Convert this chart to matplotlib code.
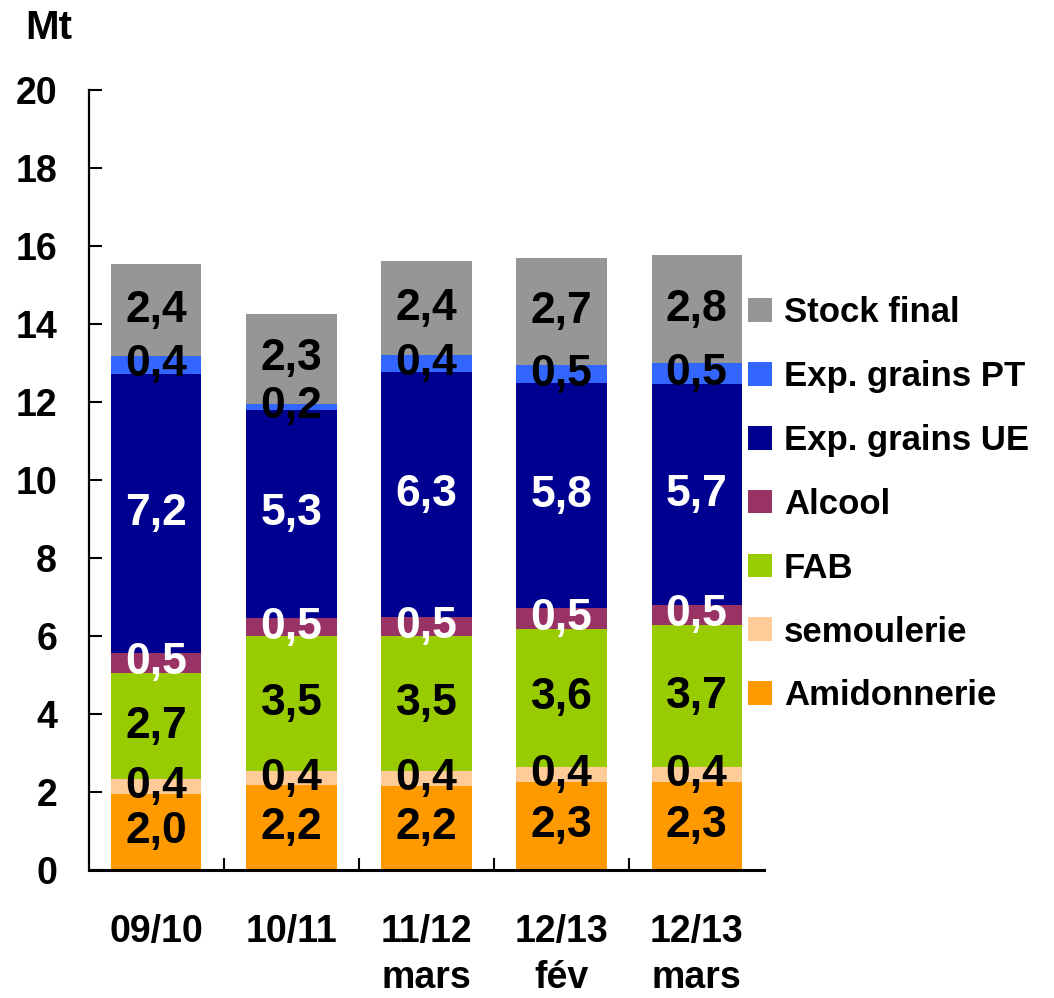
import numpy as np
from matplotlib import pyplot as plt
from matplotlib.patches import Patch

plt.rcParams['font.family'] = ['Liberation Sans', 'DejaVu Sans']
plt.rcParams['font.weight'] = 'bold'

campagnes = ["09/10", "10/11", "11/12\nmars", "12/13\nfév", "12/13\nmars"]

amidonnerie = [1.96, 2.17, 2.16, 2.26, 2.26]
semoulerie = [0.36, 0.36, 0.39, 0.37, 0.37]
fab = [2.74, 3.46, 3.46, 3.56, 3.66]
alcool = [0.51, 0.47, 0.48, 0.53, 0.51]
exp_ue = [7.16, 5.34, 6.28, 5.76, 5.66]
exp_pt = [0.44, 0.16, 0.44, 0.47, 0.54]
stock_final = [2.36, 2.29, 2.40, 2.73, 2.76]

series = [
    ("Amidonnerie", amidonnerie, "#FF9900", "black"),
    ("semoulerie", semoulerie, "#FFCC99", "black"),
    ("FAB", fab, "#99CC00", "black"),
    ("Alcool", alcool, "#993366", "white"),
    ("Exp. grains UE", exp_ue, "#000090", "white"),
    ("Exp. grains PT", exp_pt, "#3366FF", "black"),
    ("Stock final", stock_final, "#969696", "black"),
]

fig = plt.figure(figsize=(10.54, 9.98), dpi=100)
ax = fig.add_axes([0.0844, 0.1283, 0.7249 - 0.0844, 0.9098 - 0.1283])

x = np.arange(len(campagnes))
bas = np.zeros(len(campagnes))
handles = []
for nom, vals, coul, coul_txt in series:
    vals = np.array(vals)
    ax.bar(x, vals, bottom=bas, width=0.667, color=coul, linewidth=0)
    for i in range(len(x)):
        ax.text(x[i], bas[i] + vals[i] / 2, f"{vals[i]:.1f}".replace(".", ","),
                ha="center", va="center", fontsize=32, color=coul_txt,
                fontweight="bold")
    bas = bas + vals
    handles.append(Patch(facecolor=coul, label=nom))

ax.set_xlim(-0.5, len(campagnes) - 0.5)
ax.set_ylim(0, 20)
ax.set_yticks(range(0, 21, 2))
ax.set_xticks(x)
ax.set_xticklabels(campagnes, linespacing=1.35)
ax.set_xticks(x[:-1] + 0.5, minor=True)

ax.spines["top"].set_visible(False)
ax.spines["right"].set_visible(False)
ax.spines["left"].set_linewidth(1.6)
ax.spines["bottom"].set_linewidth(2.2)

ax.tick_params(axis="y", direction="in", length=9.5, width=1.5, pad=23,
               labelsize=27)
ax.tick_params(axis="x", which="major", length=0, pad=32, labelsize=27)
ax.tick_params(axis="x", which="minor", direction="in", length=9, width=1.5)

fig.text(25 / 1054, 1 - 28 / 998, "Mt", fontsize=29, fontweight="bold",
         ha="left", va="center")

ax.legend(handles=handles[::-1], loc="upper left",
          bbox_to_anchor=(748 / 1054, 1 - 296 / 998),
          bbox_transform=fig.transFigure, frameon=False, fontsize=25,
          handlelength=0.68, handleheight=0.68, handletextpad=0.35,
          labelspacing=0.89, borderpad=0, borderaxespad=0)

plt.savefig("out.png", dpi=100)
